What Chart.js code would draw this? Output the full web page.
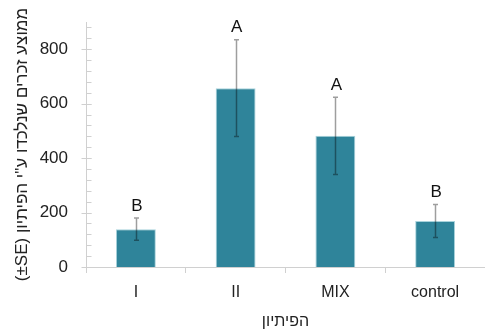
<!DOCTYPE html>
<html>
<head>
<meta charset="utf-8">
<script src="https://cdn.jsdelivr.net/npm/chart.js@4/dist/chart.umd.min.js"></script>
<style>
html,body{margin:0;padding:0;background:#fff;}
#wrap{width:485px;height:331px;position:relative;}
</style>
</head>
<body>
<div id="wrap"><canvas id="c" width="485" height="331"></canvas></div>
<script>
const categories = ['I', 'II', 'MIX', 'control'];
const means = [139, 657, 482, 169];
const errors = [41, 178, 142, 61];
const letters = ['B', 'A', 'A', 'B'];
const yMax = 900;
const yMajorStep = 200;
const yMinorStep = 40;
const xTitle = 'הפיתיון';
const yTitle = '(±SE) ממוצע זכרים שנלכדו ע"י הפיתיון';

const FONT = 'Liberation Sans, Arial, sans-serif';

const extras = {
  id: 'extras',
  afterDatasetsDraw(chart) {
    const ctx = chart.ctx;
    const y = chart.scales.y;
    const meta = chart.getDatasetMeta(0);
    ctx.save();
    ctx.strokeStyle = '#d0d0d0';
    ctx.lineWidth = 1;
    const ax = Math.round(chart.chartArea.left) + 0.5;
    for (let v = 0; v <= yMax; v += yMinorStep) {
      const py = Math.round(y.getPixelForValue(v)) + 0.5;
      ctx.beginPath();
      ctx.moveTo(ax, py);
      ctx.lineTo(ax + 5, py);
      ctx.stroke();
    }
    for (let v = 0; v <= yMax; v += yMajorStep) {
      const py = Math.round(y.getPixelForValue(v)) + 0.5;
      ctx.beginPath();
      ctx.moveTo(ax - 5, py);
      ctx.lineTo(ax + 5, py);
      ctx.stroke();
    }
    meta.data.forEach((bar, i) => {
      const cx = Math.round(bar.x) + 0.5;
      const top = y.getPixelForValue(means[i] + errors[i]);
      const bot = y.getPixelForValue(means[i] - errors[i]);
      ctx.strokeStyle = 'rgba(0,0,0,0.38)';
      ctx.lineWidth = 1.5;
      ctx.beginPath();
      ctx.moveTo(cx, top); ctx.lineTo(cx, bot);
      ctx.moveTo(cx - 2.5, top); ctx.lineTo(cx + 2.5, top);
      ctx.moveTo(cx - 2.5, bot); ctx.lineTo(cx + 2.5, bot);
      ctx.stroke();
      ctx.fillStyle = '#111';
      ctx.font = '17px ' + FONT;
      ctx.textAlign = 'center';
      ctx.textBaseline = 'middle';
      ctx.fillText(letters[i], bar.x + 1, top - 12);
    });
    ctx.restore();
  }
};

new Chart(document.getElementById('c'), {
  type: 'bar',
  data: {
    labels: categories,
    datasets: [{
      data: means,
      backgroundColor: '#2f849a',
      borderColor: '#a9d3dc',
      borderWidth: 1,
      barPercentage: 0.4,
      categoryPercentage: 1.0
    }]
  },
  options: {
    responsive: false,
    animation: false,
    devicePixelRatio: 1,
    layout: { padding: { top: 22, right: 0, left: 12, bottom: 0 } },
    plugins: { legend: { display: false }, tooltip: { enabled: false } },
    scales: {
      x: {
        grid: { display: true, drawOnChartArea: false, drawTicks: true, tickLength: 6, color: '#d0d0d0', offset: true },
        border: { display: true, color: '#d0d0d0', width: 1 },
        ticks: { color: '#222', font: { family: FONT, size: 16 }, padding: 10, maxRotation: 0 },
        title: { display: true, text: xTitle, color: '#222', font: { family: FONT, size: 16 }, padding: { top: 8, bottom: 0 } },
        afterFit(s) { s.height = 64; }
      },
      y: {
        min: 0, max: yMax,
        grid: { display: false },
        border: { display: true, color: '#d0d0d0', width: 1 },
        ticks: { stepSize: yMajorStep, includeBounds: false, color: '#222', font: { family: FONT, size: 17 }, padding: 10 },
        title: { display: true, text: yTitle, color: '#222', font: { family: FONT, size: 17 }, padding: { top: 0, bottom: 4 } },
        afterFit(s) { s.width = 74; }
      }
    }
  },
  plugins: [extras]
});
</script>
</body>
</html>
